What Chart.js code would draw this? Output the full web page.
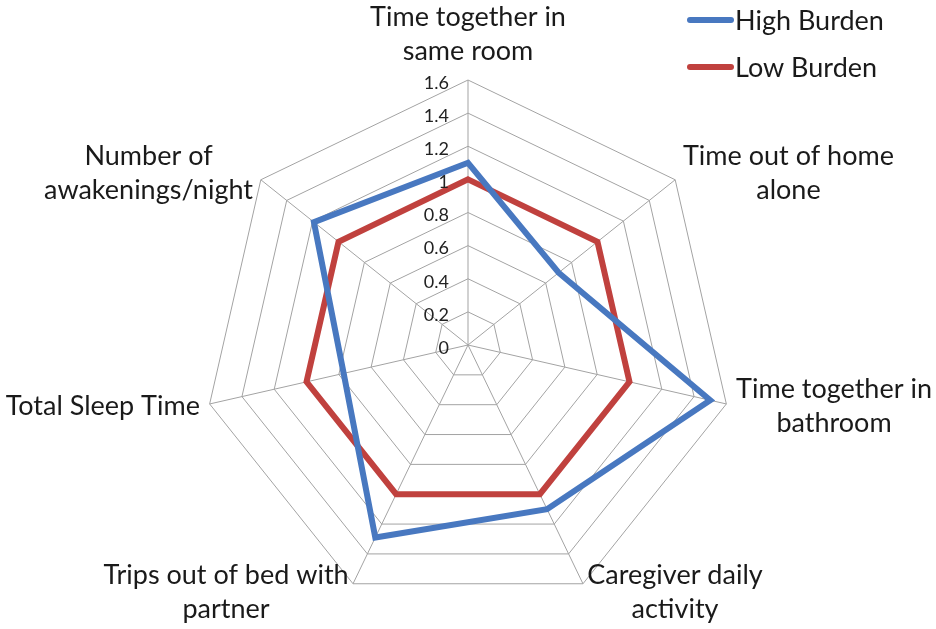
<!DOCTYPE html>
<html>
<head>
<meta charset="utf-8">
<script src="https://cdn.jsdelivr.net/npm/chart.js@4.4.0/dist/chart.umd.min.js"></script>
<style>
  html, body { margin: 0; padding: 0; background: #fff; }
  #wrap { position: relative; width: 936px; height: 629px; }
</style>
</head>
<body>
<div id="wrap"><canvas id="radar"></canvas></div>
<script>
// categories (split into lines the way the picture shows them)
const categories = [
  ['Time together in', 'same room'],
  ['Time out of home', 'alone'],
  ['Time together in', 'bathroom'],
  ['Caregiver daily', 'activity'],
  ['Trips out of bed with', 'partner'],
  ['Total Sleep Time'],
  ['Number of', 'awakenings/night']
];
const highBurden = [1.1, 0.7, 1.5, 1.1, 1.29, 0.77, 1.19];
const lowBurden = [1.0, 1.0, 1.0, 1.0, 1.0, 1.0, 1.0];
const tickLabels = ['0', '0.2', '0.4', '0.6', '0.8', '1', '1.2', '1.4', '1.6'];

const FONT = 'Lato, "Liberation Sans", sans-serif';
const BLUE = '#4878c0';
const RED = '#c0413e';
const TEXT = '#1a1a1a';

// tick labels sit left of the vertical axis, "0" included
const tickPlugin = {
  id: 'tickText',
  afterDatasetsDraw(chart) {
    const s = chart.scales.r;
    const ctx = chart.ctx;
    ctx.save();
    ctx.font = '18px ' + FONT;
    ctx.fillStyle = '#222';
    ctx.textAlign = 'right';
    ctx.textBaseline = 'middle';
    tickLabels.forEach(t => {
      const d = s.getDistanceFromCenterForValue(parseFloat(t));
      ctx.fillText(t, s.xCenter - 19, s.yCenter - d + 3);
    });
    ctx.restore();
  }
};

// category labels placed beside each spoke end (office style)
const labelPlugin = {
  id: 'spokeLabels',
  afterDraw(chart) {
    const s = chart.scales.r;
    const ctx = chart.ctx;
    const lh = 34;
    ctx.save();
    ctx.font = '27px ' + FONT;
    ctx.fillStyle = TEXT;
    ctx.textAlign = 'center';
    ctx.textBaseline = 'middle';
    chart.data.labels.forEach((lines, i) => {
      const p = s.getPointPosition(i, s.drawingArea + 10);
      const ang = p.angle + Math.PI / 2; // 0 at top, clockwise
      const sin = Math.sin(ang);
      const w = Math.max(...lines.map(l => ctx.measureText(l).width));
      let cx = p.x, cy = p.y - (lines.length - 1) * lh / 2;
      if (Math.abs(sin) < 0.01) {
        cy = p.y - lines.length * lh + lh / 2 - 2;
      } else if (sin > 0) {
        cx = p.x + w / 2;
      } else {
        cx = p.x - w / 2;
      }
      lines.forEach((l, k) => ctx.fillText(l, cx, cy + k * lh));
    });
    ctx.restore();
  }
};

// legend in the top right corner
const legendPlugin = {
  id: 'cornerLegend',
  afterDraw(chart) {
    const ctx = chart.ctx;
    ctx.save();
    chart.data.datasets.forEach((ds, i) => {
      const y = 20 + i * 47;
      ctx.strokeStyle = ds.borderColor;
      ctx.lineWidth = 6;
      ctx.lineCap = 'round';
      ctx.beginPath();
      ctx.moveTo(690, y);
      ctx.lineTo(731, y);
      ctx.stroke();
      ctx.font = '27px ' + FONT;
      ctx.fillStyle = TEXT;
      ctx.textAlign = 'left';
      ctx.textBaseline = 'middle';
      ctx.fillText(ds.label, 735, y + 1);
    });
    ctx.restore();
  }
};

new Chart(document.getElementById('radar'), {
  type: 'radar',
  data: {
    labels: categories,
    datasets: [
      { label: 'High Burden', data: highBurden, borderColor: BLUE, borderWidth: 6, fill: false, pointRadius: 0, borderJoinStyle: 'miter' },
      { label: 'Low Burden', data: lowBurden, borderColor: RED, borderWidth: 6, fill: false, pointRadius: 0, borderJoinStyle: 'miter' }
    ]
  },
  options: {
    responsive: true,
    maintainAspectRatio: false,
    animation: false,
    layout: { padding: { top: 80, bottom: 19, left: 200, right: 200 } },
    plugins: {
      legend: { display: false },
      tooltip: { enabled: false }
    },
    scales: {
      r: {
        min: 0,
        max: 1.6,
        ticks: { stepSize: 0.2, display: false },
        grid: { color: '#a3a3a3', lineWidth: 1 },
        angleLines: { color: '#a3a3a3', lineWidth: 1 },
        pointLabels: { display: false }
      }
    }
  },
  plugins: [tickPlugin, labelPlugin, legendPlugin]
});
</script>
</body>
</html>
